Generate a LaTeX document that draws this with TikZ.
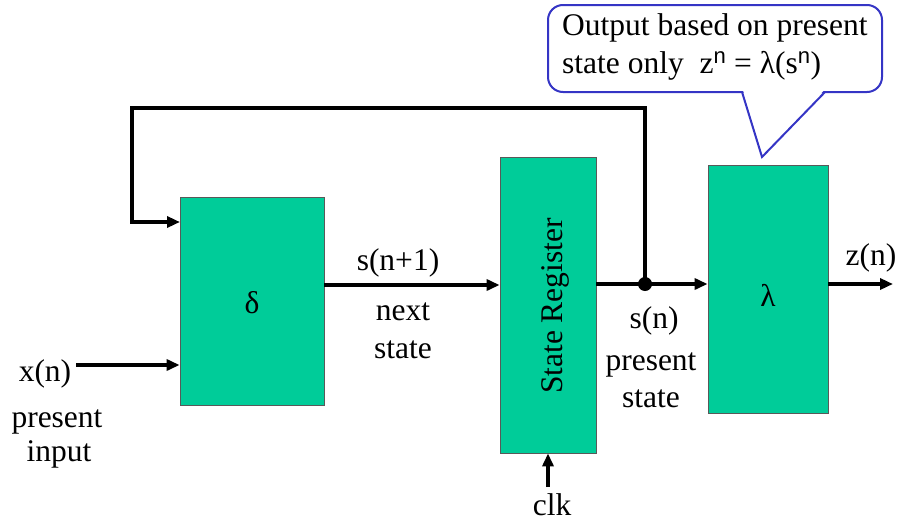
\documentclass[tikz,border=0pt]{standalone}
\usepackage{fontspec}
\setmainfont{Liberation Serif}
\newfontfamily\supfont{Liberation Sans}
\usetikzlibrary{arrows.meta}
\definecolor{boxgreen}{HTML}{00CC99}
\definecolor{callblue}{HTML}{3535C5}
\begin{document}
\begin{tikzpicture}[x=1pt,y=-1pt,
  blk/.style={draw=black!65, line width=0.8pt, fill=boxgreen, inner sep=0pt},
  wire/.style={line width=3.5pt},
  arr/.style={wire, -{Triangle[length=13pt,width=11pt]}},
  lbl/.style={font=\fontsize{31.5}{36}\selectfont, inner sep=0pt, anchor=base},
  callbox/.style={draw=callblue, line width=2pt, fill=white, rounded corners=15pt, inner sep=0pt},
  callptr/.style={draw=callblue, line width=2pt, line join=miter}]
\useasboundingbox (0,0) rectangle (901,525);

% blocks
\node[blk, minimum width=144pt, minimum height=208pt] (delta) at (252,301) {};
\node[blk, minimum width=96pt, minimum height=296pt] (sr) at (548,305) {};
\node[blk, minimum width=120pt, minimum height=248pt] (lam) at (768,289) {};
\node[lbl] (dlt) at (252,313) {δ};
\node[lbl] (lmt) at (768,306) {λ};
\node[lbl, rotate=90] (srt) at (562,306) {State Register};

% coordinates
\coordinate (xin) at (76,365);
\coordinate (yd) at (0,285);
\coordinate (fbtop) at (132,108);
\coordinate (fbin) at (180,222);
\coordinate (zout) at (893,284);
\coordinate (clk0) at (548,487);

% junction
\node[circle, fill=black, inner sep=0pt, minimum size=14pt] (jn) at (645,284) {};

% connectors
\draw[arr] (xin) -- (delta.west |- xin);
\draw[arr] (delta.east |- yd) -- (sr.west |- yd);
\draw[arr] (sr.east |- jn) -- (lam.west |- jn);
\draw[arr] (jn.center) |- (fbtop) |- (fbin);
\draw[arr] (lam.east |- zout) -- (zout);
\draw[arr] (clk0) -- (sr.south);

% labels
\node[lbl] (lx) at (45,381) {x(n)};
\node[lbl] (lpi1) at (57,427) {present};
\node[lbl] (lpi2) at (59,461) {input};
\node[lbl] (lsn1) at (398,270) {s(n+1)};
\node[lbl] (lns1) at (403,320) {next};
\node[lbl] (lns2) at (403,358) {state};
\node[lbl] (lsn) at (654,328) {s(n)};
\node[lbl] (lps1) at (651,370) {present};
\node[lbl] (lps2) at (651,407) {state};
\node[lbl] (lclk) at (552,515) {clk};
\node[lbl] (lz) at (871,265) {z(n)};

% callout
\node[callbox, minimum width=334pt, minimum height=87pt] (call) at (715,48.5) {};
\coordinate (cpl) at (742,92);
\coordinate (ctip) at (762,157);
\coordinate (cpr) at (825,92);
\fill[white] (743,90.3) -- (762,154) -- (824,90.3) -- cycle;
\draw[callptr] (cpl) -- (ctip) -- (cpr);
\node[lbl, anchor=base west] (c1) at (562,35) {Output based on present};
\node[lbl, anchor=base west] (c2) at (562,73) {state only\ \ z\textsuperscript{\supfont n} = λ(s\textsuperscript{\supfont n})};
\end{tikzpicture}
\end{document}
